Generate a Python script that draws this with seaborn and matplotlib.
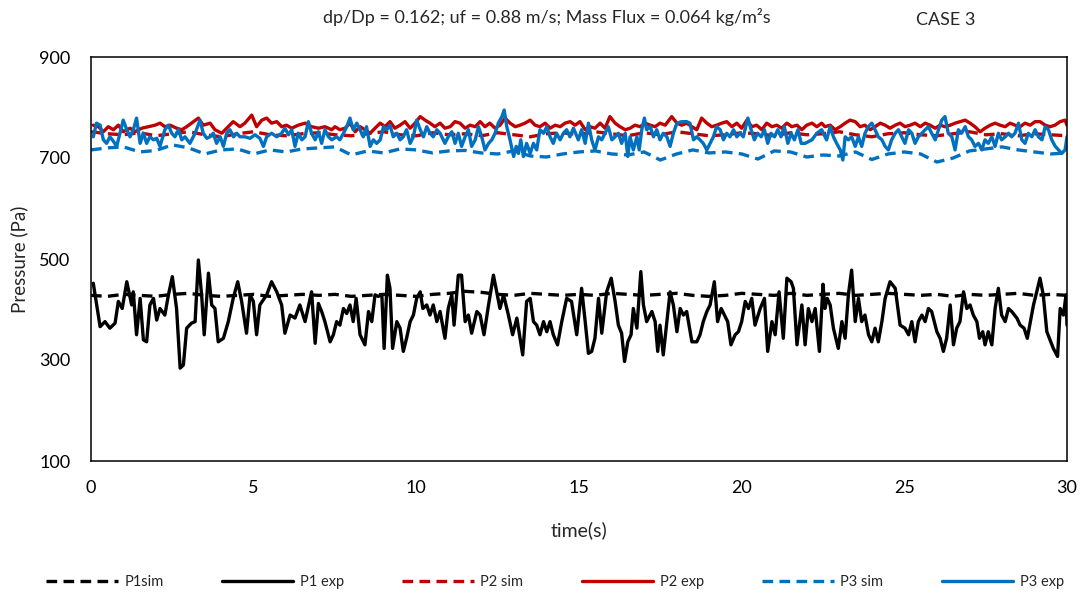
import matplotlib
matplotlib.use("Agg")
import matplotlib.pyplot as plt
import seaborn as sns
import numpy as np

# ---------------- data ----------------
t_sim = [i * 0.5 for i in range(61)]

p1_sim = [428, 426, 430, 428, 426, 430, 432, 428, 426, 428, 430, 426, 428, 430, 428, 430,
          426, 428, 430, 428, 426, 430, 432, 436, 434, 430, 428, 432, 430, 428, 430, 428,
          432, 430, 428, 430, 432, 428, 426, 428, 432, 430, 428, 432, 428, 430, 432, 428,
          430, 432, 430, 428, 430, 426, 430, 428, 430, 432, 428, 430, 428]

p2_sim = [752, 748, 746, 750, 744, 748, 752, 746, 742, 748, 752, 746, 744, 748, 750, 746,
          744, 748, 752, 746, 744, 750, 746, 748, 744, 750, 746, 742, 748, 750, 746, 752,
          748, 744, 750, 746, 752, 748, 744, 746, 750, 748, 744, 750, 746, 748, 752, 746,
          742, 748, 750, 746, 744, 748, 752, 746, 748, 744, 748, 746, 744]

p3_sim = [716, 720, 722, 712, 715, 726, 720, 708, 716, 718, 708, 716, 712, 718, 720, 722,
          706, 714, 710, 718, 716, 710, 714, 715, 710, 708, 714, 704, 702, 708, 712, 714,
          708, 706, 712, 696, 708, 716, 710, 712, 708, 698, 714, 712, 702, 706, 704, 712,
          697, 708, 712, 708, 692, 700, 714, 718, 722, 716, 712, 708, 710]

t_p1_exp = [0.07, 0.28, 0.43, 0.58, 0.74, 0.84, 0.96, 1.10, 1.25, 1.30, 1.40, 1.51, 1.61, 1.71,
            1.81, 1.92, 2.02, 2.12, 2.27, 2.38, 2.50, 2.63, 2.74, 2.84, 2.94, 3.09, 3.20, 3.30,
            3.40, 3.48, 3.61, 3.71, 3.81, 3.91, 4.07, 4.22, 4.37, 4.51, 4.63, 4.78, 4.89, 4.99,
            5.09, 5.19, 5.40, 5.55, 5.71, 5.86, 5.96, 6.12, 6.27, 6.42, 6.58, 6.78, 6.89, 6.99,
            7.09, 7.19, 7.35, 7.45, 7.55, 7.65, 7.76, 7.86, 7.96, 8.06, 8.15, 8.27, 8.42, 8.53,
            8.63, 8.73, 8.83, 8.94, 9.01, 9.11, 9.19, 9.27, 9.40, 9.50, 9.60, 9.70, 9.81, 9.91,
            10.01, 10.12, 10.20, 10.32, 10.42, 10.52, 10.63, 10.73, 10.88, 10.98, 11.09, 11.16,
            11.29, 11.39, 11.50, 11.60, 11.70, 11.86, 11.96, 12.08, 12.22, 12.37, 12.47, 12.57,
            12.68, 12.83, 12.96, 13.09, 13.27, 13.39, 13.50, 13.60, 13.70, 13.80, 13.91, 14.01,
            14.11, 14.21, 14.34, 14.47, 14.62, 14.77, 14.93, 15.08, 15.19, 15.29, 15.39, 15.49,
            15.60, 15.70, 15.85, 15.99, 16.11, 16.21, 16.31, 16.40, 16.50, 16.60, 16.67, 16.78,
            16.90, 16.98, 17.08, 17.24, 17.34, 17.42, 17.49, 17.59, 17.70, 17.80, 17.90, 18.01,
            18.11, 18.21, 18.31, 18.47, 18.62, 18.72, 18.82, 18.93, 19.03, 19.16, 19.26, 19.37,
            19.47, 19.57, 19.67, 19.80, 19.90, 20.00, 20.11, 20.21, 20.31, 20.41, 20.57, 20.70,
            20.80, 20.93, 21.03, 21.15, 21.28, 21.39, 21.52, 21.59, 21.70, 21.85, 21.95, 22.05,
            22.16, 22.26, 22.39, 22.50, 22.56, 22.63, 22.72, 22.82, 22.97, 23.08, 23.18, 23.28,
            23.38, 23.49, 23.59, 23.69, 23.79, 23.90, 24.00, 24.10, 24.20, 24.31, 24.41, 24.56,
            24.72, 24.87, 25.02, 25.13, 25.23, 25.33, 25.43, 25.54, 25.64, 25.74, 25.84, 26.00,
            26.10, 26.20, 26.30, 26.41, 26.51, 26.61, 26.71, 26.82, 26.92, 27.02, 27.12, 27.23,
            27.31, 27.41, 27.48, 27.58, 27.69, 27.79, 27.89, 27.99, 28.10, 28.20, 28.30, 28.46,
            28.56, 28.68, 28.78, 28.97, 29.07, 29.17, 29.27, 29.38, 29.58, 29.71, 29.79, 29.89,
            29.97, 30.00]
p1_exp = [452, 366, 376, 363, 373, 416, 402, 455, 409, 435, 350, 422, 340, 336,
          409, 422, 379, 402, 389, 429, 465, 402, 284, 290, 363, 373, 376, 498,
          429, 350, 472, 409, 402, 336, 343, 376, 422, 455, 416, 353, 429, 416,
          350, 409, 429, 455, 435, 409, 353, 389, 383, 409, 376, 435, 333, 412,
          396, 376, 336, 350, 376, 369, 402, 392, 409, 376, 422, 350, 330, 396,
          376, 429, 426, 429, 323, 468, 442, 323, 376, 363, 317, 343, 376, 389,
          422, 435, 402, 409, 389, 409, 376, 396, 343, 402, 429, 369,
          468, 468, 376, 389, 353, 396, 389, 350, 409, 468, 435, 402,
          429, 389, 350, 383, 310, 416, 422, 376, 369, 350, 376, 356,
          376, 350, 330, 376, 422, 416, 350, 442, 376, 313, 317, 343,
          422, 353, 435, 462, 416, 369, 353, 297, 336, 350, 402, 363,
          475, 409, 376, 396, 376, 317, 369, 310, 376, 435, 409, 356,
          402, 389, 396, 336, 336, 350, 376, 396, 409, 455, 376, 402,
          389, 376, 330, 350, 356, 376, 416, 402, 422, 369, 402, 422,
          317, 376, 350, 435, 343, 462, 455, 442, 330, 409, 330, 402,
          376, 402, 317, 450, 402, 422, 409, 363, 323, 376, 343, 429,
          478, 376, 422, 376, 389, 350, 336, 363, 336, 376, 422, 455,
          442, 369, 363, 350, 376, 336, 376, 389, 376, 402, 396, 356,
          343, 317, 343, 409, 330, 363, 376, 435, 402, 409, 389, 376,
          343, 356, 330, 356, 330, 402, 442, 389, 376, 402, 396, 383,
          369, 363, 343, 409, 435, 462, 429, 356, 323, 307, 402, 389,
          429, 369]

t_p2_exp = [0.07, 0.23, 0.38, 0.53, 0.69, 0.84, 0.99, 1.20, 1.35, 1.56, 1.76, 1.97, 2.12, 2.27,
            2.43, 2.63, 2.79, 2.94, 3.09, 3.30, 3.45, 3.66, 3.81, 4.02, 4.22, 4.37, 4.58, 4.73,
            4.94, 5.09, 5.25, 5.40, 5.55, 5.71, 5.86, 6.01, 6.17, 6.37, 6.58, 6.78, 6.99, 7.19,
            7.40, 7.50, 7.65, 7.81, 7.96, 8.12, 8.27, 8.42, 8.58, 8.73, 8.89, 9.04, 9.19, 9.34,
            9.50, 9.65, 9.81, 9.96, 10.12, 10.27, 10.42, 10.57, 10.73, 10.88, 11.04, 11.19,
            11.34, 11.50, 11.65, 11.81, 11.96, 12.11, 12.26, 12.42, 12.57, 12.73, 12.88, 13.04,
            13.19, 13.34, 13.50, 13.65, 13.80, 13.96, 14.11, 14.27, 14.42, 14.57, 14.73, 14.88,
            15.03, 15.19, 15.34, 15.49, 15.65, 15.80, 15.95, 16.11, 16.26, 16.42, 16.57, 16.72,
            16.88, 17.03, 17.19, 17.34, 17.49, 17.65, 17.85, 18.01, 18.16, 18.31, 18.47, 18.62,
            18.77, 18.93, 19.08, 19.23, 19.39, 19.54, 19.70, 19.85, 20.00, 20.16, 20.31, 20.46,
            20.62, 20.77, 20.93, 21.08, 21.23, 21.39, 21.54, 21.70, 21.85, 22.00, 22.16, 22.31,
            22.46, 22.56, 22.72, 22.87, 23.03, 23.18, 23.33, 23.49, 23.64, 23.79, 23.95, 24.10,
            24.26, 24.41, 24.56, 24.72, 24.87, 25.02, 25.18, 25.33, 25.49, 25.64, 25.79, 25.95,
            26.10, 26.25, 26.41, 26.56, 26.71, 26.87, 27.02, 27.17, 27.33, 27.48, 27.64, 27.79,
            27.94, 28.10, 28.25, 28.40, 28.56, 28.71, 28.87, 29.02, 29.17, 29.33, 29.48, 29.63,
            29.79, 29.94, 30.00]
p2_exp = [765, 762, 752, 762, 756, 765, 752, 759, 752, 759, 762, 765, 769, 762,
          765, 759, 756, 762, 769, 779, 765, 769, 756, 749, 762, 772, 762, 769,
          785, 762, 775, 779, 769, 772, 762, 765, 759, 765, 769, 762, 759, 762,
          756, 762, 756, 759, 769, 752, 762, 756, 749, 759, 769, 762, 772, 759,
          765, 772, 759, 769, 782, 775, 769, 762, 769, 759, 762, 772,
          769, 759, 765, 762, 772, 762, 769, 759, 765, 779, 769, 762,
          765, 769, 775, 765, 762, 769, 759, 765, 762, 769, 772, 765,
          772, 756, 762, 759, 769, 759, 782, 769, 762, 756, 759, 765,
          762, 769, 765, 762, 769, 765, 782, 769, 765, 769, 762, 756,
          779, 769, 762, 765, 769, 772, 762, 769, 759, 775, 762, 765,
          756, 769, 762, 765, 759, 769, 762, 765, 756, 765, 769, 762,
          769, 762, 765, 756, 762, 769, 775, 772, 762, 765, 756, 762,
          769, 765, 759, 765, 769, 762, 765, 769, 762, 769, 765, 759,
          765, 762, 765, 769, 772, 775, 769, 762, 752, 759, 765, 769,
          765, 762, 769, 765, 762, 769, 765, 772, 772, 765, 762, 765,
          772, 775, 765]

t_p3_exp = [0.07, 0.17, 0.28, 0.38, 0.48, 0.58, 0.69, 0.79, 0.89, 0.99, 1.10, 1.20, 1.30, 1.40,
            1.51, 1.61, 1.71, 1.81, 1.92, 2.02, 2.12, 2.27, 2.38, 2.48, 2.58, 2.69, 2.79, 2.89,
            3.04, 3.20, 3.35, 3.45, 3.56, 3.66, 3.76, 3.86, 3.97, 4.07, 4.17, 4.27, 4.38, 4.48,
            4.58, 4.73, 4.89, 5.04, 5.19, 5.30, 5.40, 5.55, 5.71, 5.86, 5.96, 6.07, 6.17, 6.27,
            6.37, 6.48, 6.58, 6.68, 6.78, 6.89, 6.99, 7.09, 7.19, 7.30, 7.40, 7.55, 7.65, 7.76,
            7.86, 7.96, 8.06, 8.17, 8.27, 8.37, 8.47, 8.58, 8.68, 8.78, 8.89, 8.99, 9.09, 9.19,
            9.29, 9.40, 9.50, 9.60, 9.70, 9.81, 9.91, 10.01, 10.12, 10.22, 10.32, 10.42, 10.52,
            10.63, 10.73, 10.88, 10.98, 11.09, 11.19, 11.29, 11.39, 11.50, 11.60, 11.70, 11.81,
            11.91, 12.01, 12.11, 12.22, 12.32, 12.42, 12.52, 12.63, 12.70, 12.78, 12.88, 12.99,
            13.07, 13.14, 13.21, 13.29, 13.39, 13.50, 13.60, 13.70, 13.80, 13.91, 14.01, 14.11,
            14.21, 14.31, 14.42, 14.52, 14.62, 14.72, 14.83, 14.98, 15.08, 15.19, 15.29, 15.39,
            15.49, 15.60, 15.70, 15.80, 15.90, 16.01, 16.11, 16.21, 16.31, 16.42, 16.50, 16.57,
            16.67, 16.78, 16.85, 16.93, 17.01, 17.08, 17.19, 17.29, 17.39, 17.49, 17.59, 17.70,
            17.80, 17.90, 18.01, 18.16, 18.31, 18.41, 18.52, 18.62, 18.72, 18.82, 18.93, 19.03,
            19.13, 19.23, 19.34, 19.44, 19.54, 19.64, 19.75, 19.85, 19.95, 20.05, 20.19, 20.29,
            20.39, 20.49, 20.60, 20.70, 20.80, 20.90, 21.01, 21.11, 21.21, 21.31, 21.42, 21.52,
            21.62, 21.73, 21.83, 21.95, 22.16, 22.31, 22.46, 22.51, 22.61, 22.72, 22.82, 22.92,
            23.03, 23.11, 23.18, 23.28, 23.38, 23.49, 23.59, 23.69, 23.79, 23.89, 24.00, 24.10,
            24.20, 24.31, 24.41, 24.51, 24.61, 24.72, 24.82, 24.92, 25.02, 25.13, 25.23, 25.33,
            25.43, 25.54, 25.64, 25.74, 25.84, 25.95, 26.05, 26.15, 26.25, 26.35, 26.46, 26.56,
            26.66, 26.76, 26.87, 26.97, 27.07, 27.17, 27.28, 27.38, 27.48, 27.58, 27.69, 27.79,
            27.89, 27.99, 28.10, 28.20, 28.30, 28.40, 28.51, 28.61, 28.71, 28.81, 28.92, 29.02,
            29.12, 29.23, 29.33, 29.43, 29.53, 29.64, 29.74, 29.84, 29.94, 30.00]
p3_exp = [742, 769, 765, 736, 729, 742, 733, 723, 749, 775, 756, 742, 756, 779,
          729, 749, 729, 742, 736, 739, 723, 756, 765, 749, 742, 756, 736, 742,
          729, 749, 775, 749, 739, 742, 749, 729, 742, 723, 749, 756, 742, 749,
          742, 742, 739, 746, 739, 723, 742, 749, 742, 749, 759, 746, 756, 723,
          749, 736, 742, 772, 749, 736, 752, 729, 756, 742, 736, 742, 736, 749,
          762, 779, 756, 769, 756, 742, 762, 723, 736, 729, 736, 762, 756, 765,
          742, 749, 736, 742, 756, 729, 742, 775, 756, 742, 762, 749, 742,
          756, 749, 729, 742, 752, 729, 749, 723, 742, 756, 723, 736,
          762, 742, 716, 729, 736, 749, 769, 782, 795, 762, 736, 703,
          723, 709, 736, 703, 729, 709, 729, 716, 756, 749, 762, 742,
          729, 749, 736, 749, 756, 742, 759, 736, 756, 729, 769, 736,
          716, 742, 736, 749, 762, 736, 742, 749, 729, 749, 703, 742,
          716, 742, 716, 756, 779, 756, 762, 742, 756, 736, 749, 742,
          723, 749, 769, 772, 772, 769, 736, 742, 736, 729, 716, 729,
          742, 762, 756, 736, 749, 742, 756, 742, 749, 742, 779, 756,
          736, 749, 742, 756, 729, 749, 742, 756, 742, 762, 729, 749,
          736, 756, 729, 729, 736, 749, 756, 749, 736, 762, 742, 729,
          716, 696, 742, 736, 742, 723, 742, 723, 749, 762, 769, 756,
          742, 736, 723, 716, 736, 749, 756, 742, 729, 756, 749, 729,
          742, 749, 756, 762, 749, 736, 756, 775, 782, 749, 742, 716,
          756, 749, 762, 742, 736, 723, 729, 716, 736, 729, 742, 723,
          749, 736, 742, 749, 742, 749, 769, 736, 729, 749, 742, 756,
          742, 736, 762, 756, 736, 723, 716, 709, 716, 742]

labels = ["P1sim", "P1 exp", "P2 sim", "P2 exp", "P3 sim", "P3 exp"]
x_ticks = [0, 5, 10, 15, 20, 25, 30]
y_ticks = [100, 300, 500, 700, 900]

# ---------------- style ----------------
sns.set_theme(style="white")
plt.rcParams["font.family"] = ["Lato", "DejaVu Sans"]

BLACK = "#000000"
RED = "#C00000"
BLUE = "#0070C0"
LW = 2.4
DASH = (3.2, 1.9)

fig = plt.figure(figsize=(10.81, 5.96), dpi=100)
ax = fig.add_axes([91 / 1081, 1 - 461 / 596, (1067 - 91) / 1081, (461 - 57) / 596])

series = [
    (t_sim, p1_sim, BLACK, True),
    (t_p1_exp, p1_exp, BLACK, False),
    (t_sim, p2_sim, RED, True),
    (t_p2_exp, p2_exp, RED, False),
    (t_sim, p3_sim, BLUE, True),
    (t_p3_exp, p3_exp, BLUE, False),
]

handles = []
for (tx, vals, col, dashed), lab in zip(series, labels):
    n_before = len(ax.lines)
    sns.lineplot(x=tx, y=vals, ax=ax, color=col, linewidth=LW, sort=False,
                 estimator=None, legend=False)
    line = ax.lines[n_before]
    if dashed:
        line.set_dashes(DASH)
    line.set_solid_joinstyle("round")
    line.set_label(lab)
    handles.append(line)

ax.set_xlim(0, 30)
ax.set_ylim(100, 900)
ax.set_xticks(x_ticks)
ax.set_yticks(y_ticks)
ax.tick_params(axis="both", length=0, labelsize=13, colors="#000000")
ax.tick_params(axis="y", pad=15)
ax.tick_params(axis="x", pad=14)
for s in ax.spines.values():
    s.set_visible(True)
    s.set_color("#000000")
    s.set_linewidth(1.1)
ax.grid(False)

ax.set_xlabel("time(s)", fontsize=14, labelpad=18)
ax.set_ylabel("Pressure (Pa)", fontsize=13.5, labelpad=8)

fig.text(547 / 1081, 1 - 17 / 596, "dp/Dp = 0.162; uf = 0.88 m/s; Mass Flux = 0.064 kg/m²s",
         ha="center", va="center", fontsize=13)
fig.text(946 / 1081, 1 - 20 / 596, "CASE 3", ha="center", va="center", fontsize=13)

leg = fig.legend(handles=handles, labels=labels, loc="center", ncol=6,
                 bbox_to_anchor=(555 / 1081, 1 - 582 / 596), frameon=False,
                 fontsize=10.5, handlelength=4.9, handletextpad=0.45, columnspacing=4.0)

fig.savefig("out.png", dpi=100)
